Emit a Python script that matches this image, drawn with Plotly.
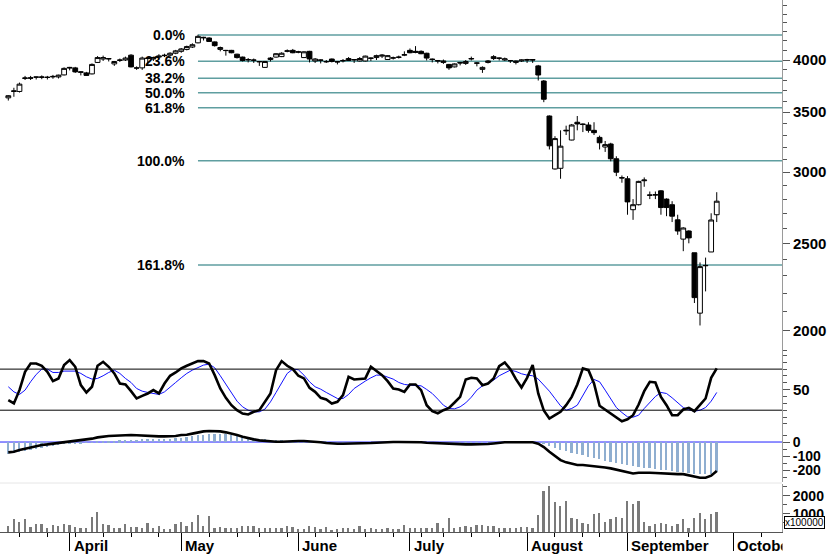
import math
import plotly.graph_objects as go

# ---------------- data ----------------
day_index = list(range(128))

price_open = [3630, 3690, 3690, 3815, 3822, 3830, 3825, 3828, 3830, 3830,
              3850, 3925, 3920, 3875, 3870, 3860, 3975, 4010, 4015, 3960,
              3995, 4000, 4050, 3920, 3920, 4015, 4010, 4030, 4050, 4050,
              4070, 4090, 4110, 4135, 4180, 4240, 4232, 4190, 4110, 4100,
              4100, 4060, 4030, 4005, 4000, 3985, 3925, 4005, 4030, 4035,
              4090, 4100, 4085, 4025, 4090, 3990, 4000, 3985, 4010, 3985,
              3990, 3995, 4005, 3990, 3990, 4020, 4025, 4040, 4005, 4020,
              4030, 4050, 4100, 4090, 4090, 4070, 4010, 3995, 3975, 3955,
              3930, 3975, 3965, 4010, 3970, 3905, 3975, 4015, 4020, 4000,
              3995, 3975, 3990, 4005, 4005, 3940, 3790, 3465, 3025, 3030,
              3335, 3258, 3410, 3395, 3386, 3340, 3280, 3200, 3225, 3105,
              2955, 2950, 2725, 2760, 2935, 2830, 2832, 2860, 2800, 2760,
              2655, 2527, 2580, 2440, 2090, 2360, 2445, 2690]
price_high = [3655, 3725, 3775, 3840, 3840, 3832, 3845, 3840, 3850, 3852,
              3925, 3930, 3930, 3885, 3880, 3965, 4040, 4045, 4020, 3990,
              4015, 4035, 4060, 3935, 4035, 4025, 4035, 4060, 4065, 4080,
              4105, 4125, 4150, 4175, 4268, 4245, 4240, 4195, 4140, 4105,
              4105, 4065, 4035, 4020, 4015, 3990, 3990, 4030, 4070, 4080,
              4110, 4115, 4095, 4090, 4095, 4020, 4005, 4000, 4015, 3990,
              4010, 4030, 4010, 4030, 4045, 4025, 4055, 4060, 4050, 4035,
              4045, 4090, 4120, 4145, 4100, 4075, 4015, 4000, 4005, 3960,
              3965, 3980, 4000, 4035, 3978, 3935, 4000, 4050, 4025, 4025,
              4000, 3995, 4005, 4012, 4010, 3950, 3800, 3470, 3290, 3340,
              3380, 3395, 3465, 3400, 3410, 3410, 3295, 3250, 3235, 3125,
              2975, 2970, 2800, 2935, 2960, 2855, 2855, 2865, 2805, 2785,
              2690, 2605, 2585, 2440, 2380, 2410, 2700, 2850]
price_low = [3605, 3640, 3680, 3800, 3800, 3805, 3808, 3805, 3812, 3815,
             3845, 3895, 3870, 3845, 3840, 3855, 3970, 3990, 3985, 3940,
             3980, 3990, 3925, 3900, 3900, 3960, 3990, 4015, 4030, 4040,
             4060, 4075, 4100, 4125, 4175, 4205, 4190, 4140, 4090, 4045,
             4070, 4015, 3985, 3975, 3970, 3940, 3920, 3985, 4025, 4030,
             4080, 4070, 4070, 4020, 3975, 3970, 3965, 3970, 3975, 3955,
             3975, 3990, 3970, 3985, 3985, 3990, 4000, 4020, 4000, 4005,
             4015, 4040, 4070, 4070, 4060, 3995, 3975, 3965, 3960, 3900,
             3925, 3945, 3950, 3995, 3935, 3870, 3965, 4000, 3995, 3990,
             3970, 3955, 3980, 3970, 3970, 3795, 3590, 3180, 3020, 2950,
             3300, 3255, 3340, 3325, 3320, 3300, 3180, 3160, 3085, 2970,
             2920, 2690, 2655, 2755, 2890, 2800, 2800, 2690, 2680, 2640,
             2555, 2450, 2500, 2145, 2025, 2210, 2445, 2640]
price_close = [3650, 3695, 3760, 3820, 3818, 3828, 3830, 3825, 3835, 3848,
               3915, 3920, 3880, 3880, 3845, 3955, 4025, 4025, 4012, 3985,
               4000, 4020, 3930, 3918, 4020, 4018, 4025, 4040, 4045, 4070,
               4095, 4115, 4140, 4160, 4250, 4235, 4195, 4150, 4130, 4098,
               4075, 4025, 3995, 4002, 3998, 3982, 3985, 4020, 4065, 4070,
               4095, 4075, 4082, 4085, 4010, 4010, 3998, 3982, 3985, 3980,
               3995, 4015, 4002, 4015, 4040, 4018, 4045, 4050, 4045, 4022,
               4028, 4055, 4075, 4080, 4065, 4020, 4005, 3990, 3990, 3920,
               3960, 3970, 3985, 4015, 3968, 3925, 3990, 4035, 4018, 4012,
               3992, 3990, 4000, 4000, 4000, 3849, 3617, 3210, 3270, 3207,
               3340, 3386, 3395, 3390, 3340, 3320, 3235, 3220, 3105, 3000,
               2958, 2780, 2760, 2930, 2940, 2828, 2830, 2740, 2740, 2680,
               2580, 2600, 2535, 2175, 2355, 2362, 2654, 2785]

fib_labels = ["0.0%", "23.6%", "38.2%", "50.0%", "61.8%", "100.0%", "161.8%"]
fib_prices = [4265, 3988, 3816, 3678, 3539, 3090, 2364]

stoch_k = [34.6, 29.8, 49.3, 76.1, 88.3, 88.3, 84.9, 76.1, 62.5, 66.4,
           85.9, 93.2, 83.4, 56.6, 45.9, 54.2, 84.9, 90.7, 83.4, 73.7,
           59.0, 57.6, 47.8, 37.1, 41.0, 44.4, 49.3, 44.4, 59.0, 70.3,
           75.1, 81.0, 84.9, 88.3, 91.7, 91.7, 88.3, 71.2, 51.7, 38.1,
           27.3, 20.0, 15.1, 13.7, 17.6, 20.0, 33.2, 44.4, 78.5, 91.7,
           84.9, 80.0, 70.3, 66.4, 52.7, 46.8, 38.1, 35.6, 29.8, 32.2,
           42.0, 68.8, 64.9, 65.4, 66.4, 83.4, 77.1, 71.2, 62.5, 51.7,
           50.3, 46.8, 57.6, 57.6, 49.3, 27.3, 18.5, 15.6, 20.0, 23.4,
           31.2, 39.5, 64.9, 67.3, 66.4, 56.6, 59.0, 66.4, 84.4, 89.8,
           80.0, 65.4, 53.2, 67.3, 85.9, 44.4, 19.5, 7.8, 12.7, 17.6,
           27.3, 39.5, 57.6, 81.0, 78.5, 59.0, 26.4, 21.0, 15.1, 10.3,
           3.9, 6.8, 12.7, 28.3, 47.8, 61.5, 60.5, 39.5, 27.3, 12.7,
           12.7, 21.0, 23.4, 18.5, 27.3, 37.1, 67.3, 81.0]
stoch_d = [54.2, 46.8, 43.0, 49.3, 61.5, 72.2, 80.0, 80.0, 75.1, 75.1,
           77.1, 77.6, 77.1, 73.7, 68.8, 65.4, 66.4, 70.3, 75.1, 78.5,
           73.7, 66.4, 60.5, 51.7, 47.8, 45.9, 44.4, 43.0, 46.8, 54.2,
           60.5, 67.3, 73.7, 78.5, 82.0, 85.9, 87.3, 82.0, 70.3, 57.6,
           44.4, 33.2, 24.9, 20.0, 17.6, 17.6, 21.5, 32.2, 45.9, 60.5,
           73.7, 80.0, 79.0, 71.2, 61.5, 54.2, 50.7, 45.9, 41.0, 37.1,
           37.1, 43.0, 51.7, 57.6, 62.5, 67.3, 71.2, 71.2, 68.8, 65.4,
           60.5, 57.6, 56.6, 56.6, 55.6, 50.3, 44.4, 36.1, 27.3, 22.5,
           22.0, 24.9, 30.7, 39.0, 49.3, 55.6, 60.0, 63.9, 70.3, 74.6,
           78.5, 76.6, 73.2, 71.2, 70.3, 65.4, 56.6, 47.8, 37.1, 26.4,
           20.0, 22.5, 27.3, 41.0, 55.6, 64.9, 61.5, 49.3, 35.6, 23.9,
           16.6, 10.3, 9.8, 12.7, 22.5, 31.2, 40.0, 45.9, 44.4, 38.1,
           30.7, 23.9, 20.5, 18.5, 20.0, 23.9, 33.2, 45.9]

macd_line = [-74, -69, -57, -48, -38, -29, -21, -17, -12, -10,
             -5, 5, 10, 12, 17, 24, 33, 40, 43, 45,
             48, 50, 50, 48, 45, 43, 43, 40, 40, 40,
             43, 50, 52, 60, 69, 76, 79, 79, 76, 69,
             62, 50, 38, 26, 19, 12, 7, 5, 2, 2,
             5, 7, 7, 7, 5, 2, -2, -7, -12, -12,
             -12, -12, -12, -12, -10, -7, -5, -2, -2, 0,
             0, 0, 2, 2, -2, -5, -7, -10, -12, -14,
             -17, -17, -17, -17, -17, -17, -14, -10, -5, -2,
             -2, -2, -2, -2, -2, -12, -36, -69, -100, -129,
             -145, -157, -164, -164, -167, -171, -176, -181, -188, -198,
             -207, -217, -224, -219, -217, -219, -221, -224, -224, -226,
             -229, -229, -236, -248, -255, -255, -240, -207]
macd_hist = [-88, -81, -74, -64, -57, -48, -40, -33, -26, -21,
             -17, -12, -10, -7, -5, -2, 5, 7, 9, 10,
             12, 14, 16, 18, 19, 20, 21, 22, 23, 25,
             28, 32, 37, 42, 48, 52, 55, 57, 57, 55,
             52, 48, 42, 36, 30, 25, 20, 16, 13, 11,
             10, 10, 9, 8, 7, 5, 3, 1, -2, -4,
             -5, -6, -7, -7, -7, -6, -6, -5, -5, -4,
             -4, -3, -3, -3, -4, -5, -6, -7, -8, -8,
             -8, -8, -8, -8, -8, -8, -7, -6, -5, -4,
             -4, -4, -4, -4, -4, -12, -17, -26, -40, -55,
             -64, -76, -86, -93, -105, -114, -124, -133, -140, -150,
             -157, -164, -171, -179, -183, -188, -193, -198, -202, -207,
             -212, -217, -221, -226, -229, -231, -231, -212]

volume = [333, 705, 539, 705, 296, 426, 426, 204, 370, 333,
          463, 389, 296, 241, 204, 852, 1093, 426, 389, 204,
          204, 463, 296, 259, 204, 519, 204, 333, 148, 148,
          426, 539, 333, 539, 945, 333, 908, 204, 278, 204,
          204, 204, 352, 333, 333, 241, 241, 241, 241, 241,
          352, 278, 167, 148, 352, 278, 148, 278, 111, 148,
          204, 204, 148, 315, 148, 204, 167, 148, 241, 167,
          148, 389, 241, 241, 204, 204, 204, 482, 241, 760,
          241, 278, 333, 278, 389, 389, 352, 315, 204, 204,
          241, 241, 278, 278, 204, 945, 2242, 2520, 1650, 1408,
          1724, 760, 704, 482, 426, 1001, 1038, 574, 704, 853,
          778, 1724, 1557, 1686, 574, 352, 463, 519, 463, 352,
          426, 723, 241, 778, 1038, 723, 1001, 1094]

month_names = ["April", "May", "June", "July", "August", "September", "October"]
month_start = [11, 31, 52, 72, 93, 111, 130]
week_ticks = [2, 7, 12, 17, 22, 27, 36, 41, 45, 50, 55, 59, 64, 69, 74, 78,
              83, 88, 98, 103, 106, 116, 122, 125, 135]

price_ticks = [2000, 2500, 3000, 3500, 4000]
price_minor = [v for v in range(1900, 4700, 100) if v not in price_ticks]

# ---------------- figure ----------------
FONT = "Liberation Sans, Arial, sans-serif"
bold15 = dict(family=FONT, size=15, color="black", weight="bold")
bold14 = dict(family=FONT, size=14, color="black", weight="bold")

fig = go.Figure()

fig.add_trace(go.Candlestick(
    x=day_index, open=price_open, high=price_high, low=price_low, close=price_close,
    xaxis="x", yaxis="y", whiskerwidth=0, showlegend=False,
    increasing=dict(line=dict(color="black", width=1), fillcolor="white"),
    decreasing=dict(line=dict(color="black", width=1), fillcolor="black"),
))

fig.add_trace(go.Scatter(x=day_index, y=stoch_d, mode="lines", xaxis="x", yaxis="y2",
                         line=dict(color="#1010ff", width=1), showlegend=False))
fig.add_trace(go.Scatter(x=day_index, y=stoch_k, mode="lines", xaxis="x", yaxis="y2",
                         line=dict(color="black", width=2.6), showlegend=False))

fig.add_trace(go.Bar(x=day_index, y=macd_hist, xaxis="x", yaxis="y3", width=0.32,
                     marker=dict(color="#8faed0", line=dict(width=0)), showlegend=False))
fig.add_trace(go.Scatter(x=day_index, y=macd_line, mode="lines", xaxis="x", yaxis="y3",
                         line=dict(color="black", width=2.6), showlegend=False))

fig.add_trace(go.Bar(x=day_index, y=volume, xaxis="x", yaxis="y4", width=0.32,
                     marker=dict(color="#7a7a7a", line=dict(width=0)), showlegend=False))

shapes = []
for p in fib_prices:
    shapes.append(dict(type="line", xref="x", yref="y", x0=34, x1=138.7, y0=p, y1=p,
                       line=dict(color="#5f9ea0", width=1.5), layer="below"))
for v in (80, 20):
    shapes.append(dict(type="line", xref="paper", yref="y2", x0=0, x1=1, y0=v, y1=v,
                       line=dict(color="black", width=1)))
shapes.append(dict(type="line", xref="paper", yref="y3", x0=0, x1=1, y0=0, y1=0,
                   line=dict(color="#2020ff", width=1), layer="below"))
shapes.append(dict(type="line", xref="paper", yref="paper", x0=0, x1=1, y0=0.0921, y1=0.0921,
                   line=dict(color="#e6e6e6", width=1)))

annotations = []
for lab, p in zip(fib_labels, fib_prices):
    # annotation positions on a log axis are given in log10 units
    annotations.append(dict(xref="x", yref="y", x=32.0, y=math.log10(p),
                            text="<b>%s</b>" % lab,
                            xanchor="right", yanchor="middle", showarrow=False,
                            font=dict(family=FONT, size=14, color="black")))
for name, d in zip(month_names, month_start):
    annotations.append(dict(xref="x", yref="paper", x=d + 0.35, y=-0.0245,
                            text="<b>%s</b>" % name, xanchor="left", yanchor="middle",
                            showarrow=False, font=dict(family=FONT, size=15, color="black")))
# the last month name is cut at the plot's right edge in the original
annotations.append(dict(xref="paper", yref="paper", x=1.0005, y=-0.0245, text=" ",
                        xanchor="left", yanchor="middle", showarrow=False,
                        width=14, height=18, bgcolor="white"))
annotations.append(dict(xref="paper", yref="paper", x=1.003, y=0.0175, text="x100000",
                        xanchor="left", yanchor="middle", showarrow=False,
                        bordercolor="black", borderwidth=1, borderpad=0, bgcolor="white",
                        font=dict(family=FONT, size=10, color="black")))

axis_common = dict(side="right", anchor="x", showgrid=False, zeroline=False,
                   showline=True, linecolor="#9a9a9a", linewidth=1,
                   ticks="outside", tickcolor="#555", ticklen=7)

fig.update_layout(
    width=829, height=554,
    margin=dict(l=0, r=47, t=0, b=22),
    paper_bgcolor="white", plot_bgcolor="white",
    showlegend=False, bargap=0, boxgap=0.1, boxgroupgap=0.05,
    shapes=shapes, annotations=annotations,
    xaxis=dict(domain=[0, 1], range=[-1.49, 138.7], anchor="y4",
               showgrid=False, zeroline=False, showline=True, linecolor="#555",
               ticks="outside", tickvals=month_start, ticklen=18, tickcolor="black",
               showticklabels=False, rangeslider=dict(visible=False),
               minor=dict(tickvals=week_ticks, ticks="outside", ticklen=4, tickcolor="black")),
    yaxis=dict(domain=[0.33835, 1], type="log", range=[3.27689, 3.66888],
               tickvals=price_ticks, ticktext=[str(v) for v in price_ticks], tickfont=bold15,
               minor=dict(tickvals=price_minor, ticks="outside", ticklen=4, tickcolor="#555"),
               **axis_common),
    yaxis2=dict(domain=[0.19549, 0.33835], range=[-6, 105], tickvals=[50], ticktext=["50"],
                tickfont=bold15,
                minor=dict(tickvals=[0, 10, 20, 30, 40, 60, 70, 80, 90, 100], ticks="outside",
                           ticklen=4, tickcolor="#555"),
                **axis_common),
    yaxis3=dict(domain=[0.09398, 0.19549], range=[-285, 100], tickvals=[0, -100, -200],
                ticktext=["0", "-100", "-200"], tickfont=bold14,
                minor=dict(tickvals=[-250, -150, -50, 50], ticks="outside", ticklen=4,
                           tickcolor="#555"),
                **axis_common),
    yaxis4=dict(domain=[0, 0.0902], range=[0, 2650], tickvals=[1000, 2000],
                ticktext=["1000", "2000"], tickfont=bold14,
                minor=dict(tickvals=[500, 1500, 2500], ticks="outside", ticklen=4,
                           tickcolor="#555"),
                **axis_common),
)

fig.write_html("out.html", config={"displayModeBar": False},
               post_script="document.body.style.margin='0px';")
